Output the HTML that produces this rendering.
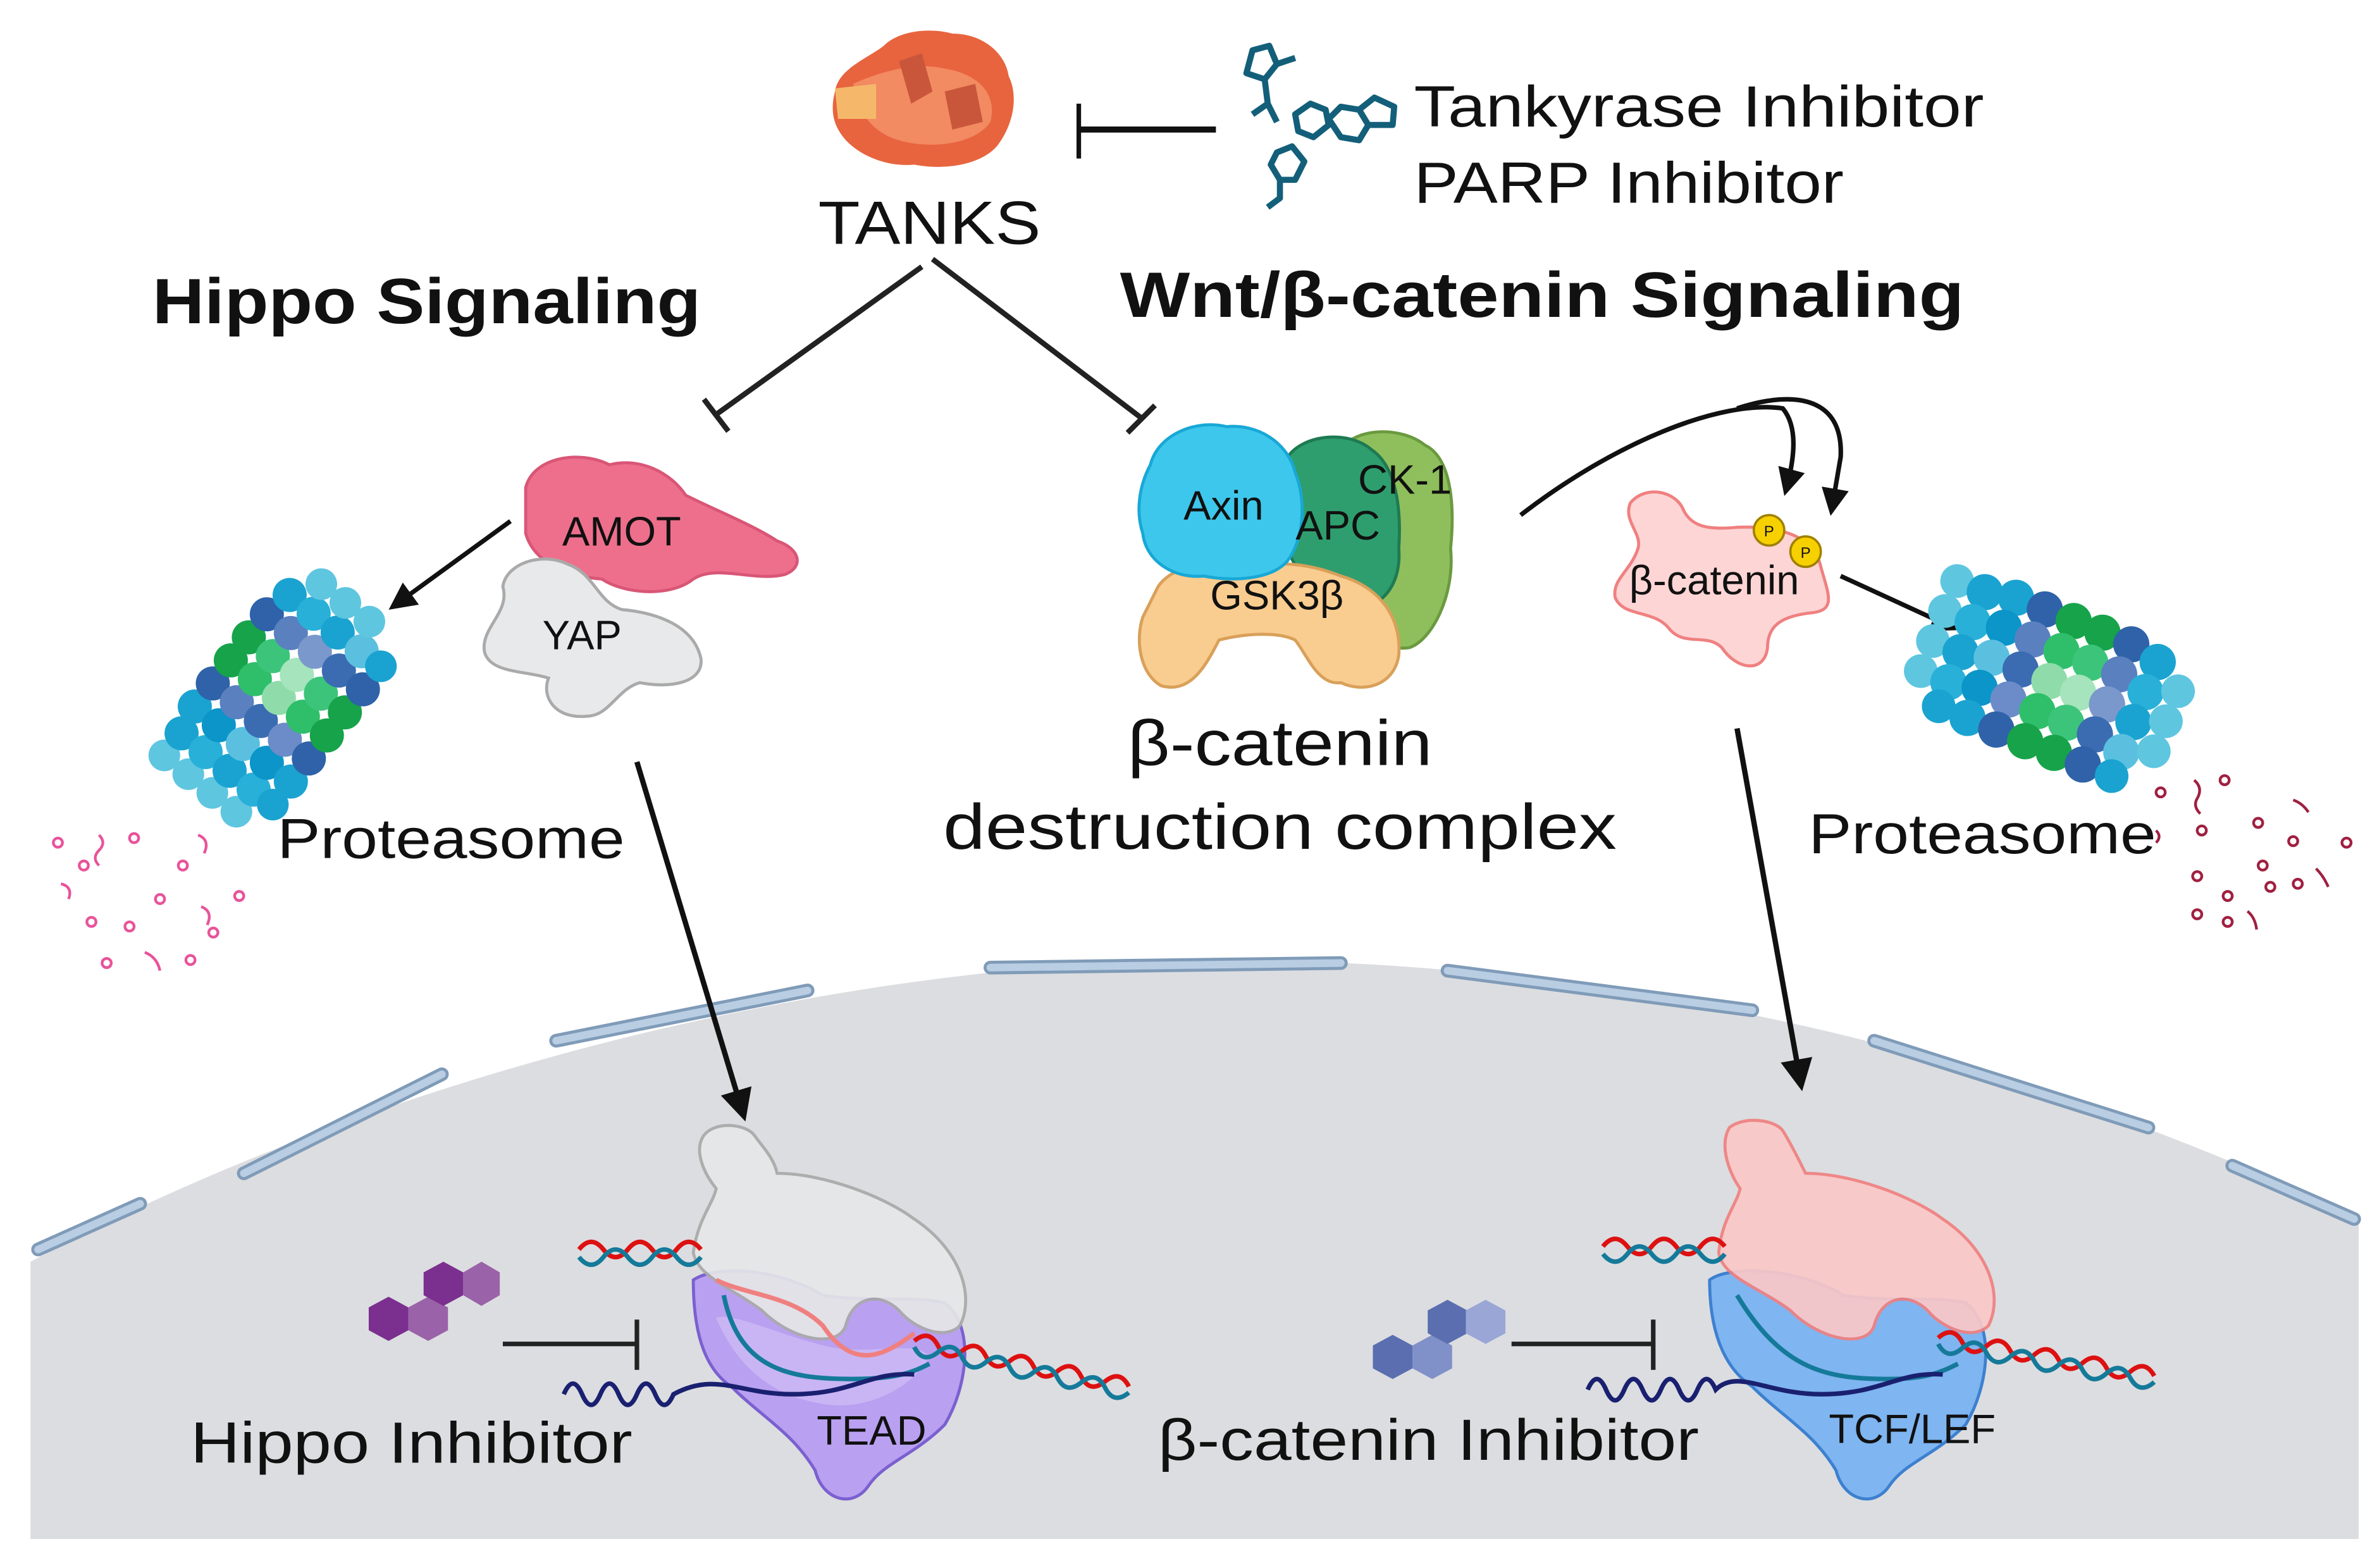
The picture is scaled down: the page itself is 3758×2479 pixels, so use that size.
<!DOCTYPE html>
<html><head><meta charset="utf-8"><style>
html,body{margin:0;padding:0;background:#fff;}
svg{display:block;}
text{font-family:"Liberation Sans",sans-serif;fill:#111;}
</style></head><body>
<svg width="3758" height="2479" viewBox="0 0 1560 1029" xmlns="http://www.w3.org/2000/svg">
<defs>
<marker id="ah" viewBox="0 0 10 10" refX="8" refY="5" markerWidth="6" markerHeight="6" orient="auto"><path d="M0,0 L10,5 L0,10 z" fill="#111"/></marker>
<g id="prot">
  <g>
  <circle cx="-95" cy="-20" r="13" fill="#5fc6e0"/><circle cx="-95" cy="5" r="13" fill="#5fc6e0"/><circle cx="-95" cy="30" r="13" fill="#5fc6e0"/><circle cx="-95" cy="-45" r="13" fill="#5fc6e0"/>
  <circle cx="-72" cy="-45" r="14" fill="#1aa3d0"/><circle cx="-72" cy="-20" r="14" fill="#29b0d8"/><circle cx="-72" cy="5" r="14" fill="#1aa3d0"/><circle cx="-72" cy="30" r="14" fill="#29b0d8"/><circle cx="-72" cy="50" r="13" fill="#1aa3d0"/>
  <circle cx="-48" cy="-50" r="14" fill="#1aa3d0"/><circle cx="-48" cy="-25" r="14" fill="#0b95c8"/><circle cx="-48" cy="0" r="14" fill="#5bc0e0"/><circle cx="-48" cy="25" r="14" fill="#0b95c8"/><circle cx="-48" cy="50" r="14" fill="#1aa3d0"/>
  <circle cx="-24" cy="-50" r="14" fill="#2f62a8"/><circle cx="-24" cy="-25" r="14" fill="#5a80c0"/><circle cx="-24" cy="0" r="14" fill="#3b6cb2"/><circle cx="-24" cy="25" r="14" fill="#6b8cc8"/><circle cx="-24" cy="50" r="14" fill="#2f62a8"/>
  <circle cx="0" cy="-50" r="14" fill="#16a34a"/><circle cx="0" cy="-25" r="14" fill="#2fbf6a"/><circle cx="0" cy="0" r="14" fill="#8fdcaa"/><circle cx="0" cy="25" r="14" fill="#2fbf6a"/><circle cx="0" cy="50" r="14" fill="#16a34a"/>
  <circle cx="24" cy="-50" r="14" fill="#16a34a"/><circle cx="24" cy="-25" r="14" fill="#3cc57a"/><circle cx="24" cy="0" r="14" fill="#a5e4bd"/><circle cx="24" cy="25" r="14" fill="#3cc57a"/><circle cx="24" cy="50" r="14" fill="#16a34a"/>
  <circle cx="48" cy="-50" r="14" fill="#2f62a8"/><circle cx="48" cy="-25" r="14" fill="#5a80c0"/><circle cx="48" cy="0" r="14" fill="#7b98cc"/><circle cx="48" cy="25" r="14" fill="#3b6cb2"/><circle cx="48" cy="50" r="14" fill="#2f62a8"/>
  <circle cx="72" cy="-45" r="14" fill="#1aa3d0"/><circle cx="72" cy="-20" r="14" fill="#29b0d8"/><circle cx="72" cy="5" r="14" fill="#1aa3d0"/><circle cx="72" cy="30" r="14" fill="#5bc0e0"/><circle cx="72" cy="50" r="13" fill="#1aa3d0"/>
  <circle cx="95" cy="-30" r="13" fill="#5fc6e0"/><circle cx="95" cy="-5" r="13" fill="#5fc6e0"/><circle cx="95" cy="20" r="13" fill="#5fc6e0"/>
  </g>
</g>
</defs>
<rect width="1560" height="1029" fill="#fff"/>

<!-- nucleus -->
<path d="M20,828 C260,700 560,630 800,630 C1060,630 1320,690 1548,800 L1548,1010 L20,1010 Z" fill="#dcdde0"/>
<g stroke="#7f9bb8" stroke-width="9" stroke-linecap="round" fill="none">
<path d="M25,820 L92,790"/><path d="M160,770 L290,705"/><path d="M365,683 L530,650"/><path d="M650,635 L880,632"/><path d="M950,637 L1150,663"/><path d="M1230,683 L1410,740"/><path d="M1465,765 L1545,800"/>
</g>
<g stroke="#b9cde3" stroke-width="5" stroke-linecap="round" fill="none">
<path d="M25,820 L92,790"/><path d="M160,770 L290,705"/><path d="M365,683 L530,650"/><path d="M650,635 L880,632"/><path d="M950,637 L1150,663"/><path d="M1230,683 L1410,740"/><path d="M1465,765 L1545,800"/>
</g>

<!-- TANKS -->
<g>
<path d="M548,60 C550,45 570,38 580,30 C590,20 610,18 625,22 C645,22 660,35 662,50 C668,62 666,80 655,95 C645,108 620,112 600,108 C580,110 560,100 552,88 C545,78 546,68 548,60 Z" fill="#e8643e"/>
<path d="M560,55 C575,48 600,40 620,45 C640,48 655,60 650,80 C640,95 610,98 590,92 C575,88 562,75 560,55Z" fill="#f28a62"/>
<path d="M548,58 L575,55 L575,78 L550,78 Z" fill="#f5b86a"/>
<path d="M590,40 L605,35 L612,60 L598,68 Z M620,60 L640,55 L645,80 L625,85 Z" fill="#c9563a"/>
</g>
<text x="610" y="160" font-size="40" text-anchor="middle" textLength="146" lengthAdjust="spacingAndGlyphs">TANKS</text>
<line x1="708" y1="68" x2="708" y2="104" stroke="#111" stroke-width="3"/>
<line x1="708" y1="85" x2="798" y2="85" stroke="#111" stroke-width="4"/>
<g stroke="#135f7a" stroke-width="4" fill="none" stroke-linejoin="round">
<path d="M822,33 L833,30 L838,42 L830,52 L818,48 Z"/><path d="M838,42 L850,38 M830,52 L832,68 L822,75 M832,68 L838,80"/>
<path d="M850,75 L860,68 L870,72 L872,82 L862,90 L852,86 Z"/><path d="M872,78 L880,70 L892,72 L898,82 L892,92 L880,90 Z M892,72 L902,64 L915,70 L914,82 L898,82"/>
<path d="M838,100 L848,96 L856,106 L850,118 L840,118 L834,108 Z M840,118 L840,130 L832,136"/>
</g>
<text x="928" y="83" font-size="38" textLength="374" lengthAdjust="spacingAndGlyphs">Tankyrase Inhibitor</text>
<text x="928" y="133" font-size="38" textLength="282" lengthAdjust="spacingAndGlyphs">PARP Inhibitor</text>

<text x="100" y="212" font-size="42" font-weight="bold" textLength="360" lengthAdjust="spacingAndGlyphs">Hippo Signaling</text>
<text x="735" y="208" font-size="42" font-weight="bold" textLength="554" lengthAdjust="spacingAndGlyphs">Wnt/β-catenin Signaling</text>

<line x1="605" y1="175" x2="470" y2="272" stroke="#222" stroke-width="3.5"/>
<line x1="462" y1="262" x2="478" y2="283" stroke="#222" stroke-width="3.5"/>
<line x1="612" y1="170" x2="750" y2="275" stroke="#222" stroke-width="3.5"/>
<line x1="740" y1="284" x2="758" y2="266" stroke="#222" stroke-width="3.5"/>

<!-- AMOT / YAP -->
<path d="M345,320 C350,300 380,295 400,305 C420,300 440,310 450,325 C470,335 495,345 510,355 C525,360 528,372 515,377 C495,382 470,370 455,380 C440,392 410,390 395,380 C370,378 350,368 345,350 Z" fill="#ee6f8c" stroke="#d95676" stroke-width="2"/>
<path d="M330,385 C332,370 355,362 372,370 C390,376 392,395 408,400 C430,402 455,410 460,432 C462,448 440,452 420,448 C405,452 400,470 385,470 C365,472 355,458 360,445 C345,440 322,442 318,428 C315,412 335,402 330,385 Z" fill="#e8e9ea" stroke="#aaa" stroke-width="2"/>
<text x="408" y="358" font-size="27" text-anchor="middle">AMOT</text>
<text x="382" y="426" font-size="27" text-anchor="middle">YAP</text>
<line x1="335" y1="342" x2="258" y2="398" stroke="#111" stroke-width="3" marker-end="url(#ah)"/>

<use href="#prot" transform="translate(183,458) rotate(-52) scale(0.8)"/>
<text x="182" y="563" font-size="37" textLength="228" lengthAdjust="spacingAndGlyphs">Proteasome</text>
<g fill="none" stroke="#e8539a" stroke-width="1.8">
<circle cx="38" cy="553" r="3"/><circle cx="88" cy="550" r="3"/><circle cx="55" cy="568" r="3"/><circle cx="120" cy="568" r="3"/><circle cx="105" cy="590" r="3"/><circle cx="60" cy="605" r="3"/><circle cx="140" cy="612" r="3"/><circle cx="85" cy="608" r="3"/><circle cx="125" cy="630" r="3"/><circle cx="70" cy="632" r="3"/><circle cx="157" cy="588" r="3"/>
<path d="M65,548 q5,5 0,10 q-5,5 0,10"/><path d="M40,580 q8,2 5,10"/><path d="M132,595 q8,3 4,12"/><path d="M95,625 q8,3 10,12"/><path d="M130,548 q8,3 4,12"/>
</g>

<!-- destruction complex -->
<path d="M880,295 C890,280 920,280 935,292 C952,300 955,330 952,360 C955,390 940,420 925,425 C905,428 895,410 890,395 L880,360 Z" fill="#8fbf5c" stroke="#6a9a40" stroke-width="2"/>
<path d="M845,300 C855,285 885,282 900,295 C915,305 920,330 918,360 C920,385 905,400 890,398 C870,395 852,380 845,360 Z" fill="#2f9e6e" stroke="#1e7a52" stroke-width="2"/>
<path d="M760,385 C770,370 800,365 820,372 C840,368 860,370 880,378 C905,385 920,405 918,430 C915,450 895,455 880,448 C865,450 858,430 850,420 C840,415 820,415 800,420 C790,440 780,455 762,450 C748,442 745,420 750,405 Z" fill="#f9cc8f" stroke="#d9a05a" stroke-width="2"/>
<path d="M755,305 C760,285 785,275 805,280 C825,278 845,290 850,310 C858,330 855,355 845,368 C835,380 810,382 790,378 C770,380 752,368 750,350 C745,335 748,318 755,305 Z" fill="#3ec7ec" stroke="#18a8d6" stroke-width="2"/>
<text x="803" y="341" font-size="27" text-anchor="middle">Axin</text>
<text x="878" y="354" font-size="27" text-anchor="middle">APC</text>
<text x="922" y="324" font-size="27" text-anchor="middle">CK-1</text>
<text x="838" y="400" font-size="27" text-anchor="middle">GSK3β</text>
<text x="840" y="502" font-size="42" text-anchor="middle" textLength="200" lengthAdjust="spacingAndGlyphs">β-catenin</text>
<text x="840" y="557" font-size="42" text-anchor="middle" textLength="442" lengthAdjust="spacingAndGlyphs">destruction complex</text>

<path d="M998,338 C1060,290 1130,262 1170,268 C1180,280 1178,300 1172,322" fill="none" stroke="#111" stroke-width="3" marker-end="url(#ah)"/>
<path d="M1140,268 C1180,255 1210,262 1208,300 L1202,335" fill="none" stroke="#111" stroke-width="3" marker-end="url(#ah)"/>

<path d="M1070,330 C1080,318 1100,322 1105,335 C1110,345 1120,348 1140,346 C1165,345 1190,350 1195,372 C1200,390 1205,400 1190,402 C1170,404 1160,410 1160,425 C1158,442 1140,440 1130,425 C1120,415 1105,425 1095,412 C1085,400 1065,405 1060,392 C1058,380 1070,375 1075,360 C1078,350 1065,342 1070,330 Z" fill="#fdd5d5" stroke="#f08080" stroke-width="2"/>
<circle cx="1161" cy="348" r="10" fill="#f7d000" stroke="#a08000" stroke-width="1.5"/>
<circle cx="1185" cy="362" r="10" fill="#f7d000" stroke="#a08000" stroke-width="1.5"/>
<text x="1161" y="352" font-size="10" text-anchor="middle">P</text>
<text x="1185" y="366" font-size="10" text-anchor="middle">P</text>
<text x="1125" y="390" font-size="27" text-anchor="middle">β-catenin</text>
<line x1="1208" y1="378" x2="1282" y2="412" stroke="#111" stroke-width="3" marker-end="url(#ah)"/>

<use href="#prot" transform="translate(1345,447) rotate(22) scale(0.85)"/>
<text x="1187" y="560" font-size="37" textLength="228" lengthAdjust="spacingAndGlyphs">Proteasome</text>
<g fill="none" stroke="#a02040" stroke-width="1.8">
<circle cx="1418" cy="520" r="3"/><circle cx="1460" cy="512" r="3"/><circle cx="1445" cy="545" r="3"/><circle cx="1482" cy="540" r="3"/><circle cx="1505" cy="552" r="3"/><circle cx="1540" cy="553" r="3"/><circle cx="1485" cy="568" r="3"/><circle cx="1442" cy="575" r="3"/><circle cx="1462" cy="588" r="3"/><circle cx="1490" cy="582" r="3"/><circle cx="1508" cy="580" r="3"/><circle cx="1442" cy="600" r="3"/><circle cx="1462" cy="605" r="3"/>
<path d="M1440,512 q6,5 2,12 q-3,5 2,10"/><path d="M1505,525 q6,2 10,8"/><path d="M1520,570 q5,5 8,12"/><path d="M1475,598 q5,4 6,12"/><path d="M1415,545 q4,4 0,8"/>
</g>

<line x1="418" y1="500" x2="488" y2="732" stroke="#111" stroke-width="3.5" marker-end="url(#ah)"/>
<line x1="1140" y1="478" x2="1182" y2="712" stroke="#111" stroke-width="3.5" marker-end="url(#ah)"/>

<!-- TEAD complex -->
<path d="M455,840 C470,830 510,832 540,850 C570,855 600,850 620,855 C640,870 635,910 620,935 C600,955 580,960 570,975 C560,990 540,985 535,965 C520,940 500,930 480,910 C465,900 455,880 455,840 Z" fill="#b9a0f0" stroke="#7a60d0" stroke-width="2"/>
<path d="M470,865 C480,860 520,880 550,885 C580,888 600,880 610,890 C600,910 570,925 545,922 C510,918 485,900 470,865 Z" fill="#cdbaf5" opacity="0.8"/>
<path d="M462,745 C470,735 490,738 495,745 C500,752 508,760 510,770 C540,770 580,785 600,800 C630,820 640,850 630,870 C620,880 600,872 590,860 C578,848 560,850 555,870 C550,885 520,880 500,860 C480,845 458,838 455,822 C458,800 468,790 470,780 C462,770 455,755 462,745 Z" fill="#e6e7e8" stroke="#aaa" stroke-width="2" opacity="0.92"/>
<text x="572" y="948" font-size="27" text-anchor="middle">TEAD</text>
<path d="M380,820 q8,-10 16,0 t16,0 t16,0 t16,0 t16,0" fill="none" stroke="#d11" stroke-width="3"/>
<path d="M380,825 q8,10 16,0 t16,0 t16,0 t16,0 t16,0" fill="none" stroke="#157a9a" stroke-width="3"/>
<path d="M600,880 q8,-10 16,0 t16,0 t16,0 t16,0 t16,0 t16,0 t16,0 t16,0 t16,0" fill="none" stroke="#d11" stroke-width="3" transform="rotate(12 600 880)"/>
<path d="M600,884 q8,10 16,0 t16,0 t16,0 t16,0 t16,0 t16,0 t16,0 t16,0 t16,0" fill="none" stroke="#157a9a" stroke-width="3" transform="rotate(12 600 884)"/>
<path d="M470,840 C490,850 520,850 540,870 C560,900 580,890 600,875" fill="none" stroke="#f08080" stroke-width="3"/>
<path d="M475,850 C485,900 520,905 560,905 C590,905 600,900 610,895" fill="none" stroke="#157a9a" stroke-width="3"/>
<path d="M370,915 q6,-14 12,0 t12,0 t12,0 t12,0 t12,0 t12,0 C470,900 485,915 520,915 C560,915 570,900 600,902" fill="none" stroke="#1a2070" stroke-width="3"/>

<g>
<polygon points="255,880 268,873 268,858 255,851 242,858 242,873" fill="#7b2f8e"/>
<polygon points="281,880 294,873 294,858 281,851 268,858 268,873" fill="#9a62a8"/>
<polygon points="291,857 304,850 304,835 291,828 278,835 278,850" fill="#7b2f8e"/>
<polygon points="316,857 328,850 328,835 316,828 304,835 304,850" fill="#9a62a8"/>
</g>
<line x1="330" y1="882" x2="418" y2="882" stroke="#222" stroke-width="3"/>
<line x1="418" y1="866" x2="418" y2="899" stroke="#222" stroke-width="3"/>
<text x="125" y="960" font-size="38" textLength="290" lengthAdjust="spacingAndGlyphs">Hippo Inhibitor</text>

<!-- TCF/LEF complex -->
<path d="M1122,840 C1135,830 1180,832 1210,850 C1240,855 1270,850 1290,855 C1310,870 1305,910 1290,935 C1270,955 1250,960 1240,975 C1230,990 1210,985 1205,965 C1190,940 1170,930 1150,910 C1135,900 1122,880 1122,840 Z" fill="#7fb5f0" stroke="#3d80d0" stroke-width="2"/>
<path d="M1135,740 C1145,732 1165,735 1170,742 C1175,750 1180,760 1185,770 C1215,770 1255,785 1275,800 C1305,820 1315,850 1305,870 C1295,880 1275,872 1265,860 C1253,848 1235,850 1230,870 C1225,885 1195,880 1175,860 C1155,845 1130,838 1128,822 C1130,800 1140,790 1142,780 C1135,770 1128,752 1135,740 Z" fill="#fbc8c8" stroke="#f08080" stroke-width="2" opacity="0.92"/>
<text x="1255" y="947" font-size="27" text-anchor="middle">TCF/LEF</text>
<path d="M1052,818 q8,-10 16,0 t16,0 t16,0 t16,0 t16,0" fill="none" stroke="#d11" stroke-width="3"/>
<path d="M1052,823 q8,10 16,0 t16,0 t16,0 t16,0 t16,0" fill="none" stroke="#157a9a" stroke-width="3"/>
<path d="M1272,878 q8,-10 16,0 t16,0 t16,0 t16,0 t16,0 t16,0 t16,0 t16,0 t16,0" fill="none" stroke="#d11" stroke-width="3" transform="rotate(10 1272 878)"/>
<path d="M1272,882 q8,10 16,0 t16,0 t16,0 t16,0 t16,0 t16,0 t16,0 t16,0 t16,0" fill="none" stroke="#157a9a" stroke-width="3" transform="rotate(10 1272 882)"/>
<path d="M1140,850 C1170,900 1200,905 1240,905 C1265,905 1275,900 1285,895" fill="none" stroke="#157a9a" stroke-width="3"/>
<path d="M1042,912 q6,-14 12,0 t12,0 t12,0 t12,0 t12,0 t12,0 t12,0 C1140,898 1160,915 1195,915 C1235,915 1245,900 1275,902" fill="none" stroke="#1a2070" stroke-width="3"/>

<g>
<polygon points="914,905 927,898 927,883 914,876 901,883 901,898" fill="#5a6eb0"/>
<polygon points="940,905 953,898 953,883 940,876 927,883 927,898" fill="#8090c8"/>
<polygon points="950,882 963,875 963,860 950,853 937,860 937,875" fill="#5a6eb0"/>
<polygon points="975,882 988,875 988,860 975,853 962,860 962,875" fill="#9aa6d6"/>
</g>
<line x1="992" y1="882" x2="1085" y2="882" stroke="#222" stroke-width="3"/>
<line x1="1085" y1="866" x2="1085" y2="899" stroke="#222" stroke-width="3"/>
<text x="760" y="958" font-size="38" textLength="355" lengthAdjust="spacingAndGlyphs">β-catenin Inhibitor</text>
</svg>
</body></html>
